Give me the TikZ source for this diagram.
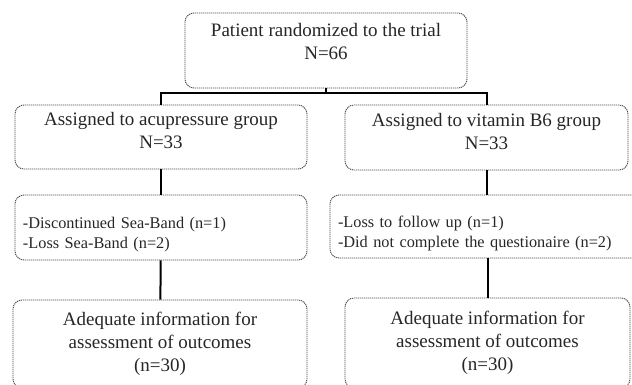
\documentclass[tikz,border=0pt]{standalone}
\usepackage{fontspec}
\setmainfont{Liberation Serif}
\usetikzlibrary{positioning,calc}
\tikzset{
	cbox/.style={
		draw=black!70,
		dash pattern=on 1.2pt off 0.8pt,
		rounded corners=9pt,
		align=center,
		inner sep=4pt,
		line width=0.9pt,
		text=black!85,
		font=\fontsize{19}{23}\selectfont
	},
	nbox/.style={cbox, align=left, inner xsep=8pt, font=\fontsize{16.3}{20.5}\selectfont},
	cline/.style={line width=2pt, black}
}

\begin{document}
\begin{tikzpicture}[x=1pt, y=-1pt]
	\useasboundingbox (0,0) rectangle (632,385);
	\node[cbox, minimum width=282pt, minimum height=75pt, text depth=18pt] (trial) at (326,50.5) {Patient randomized to the trial\\N=66};
	\node[cbox, minimum width=292pt, minimum height=64pt, text depth=13pt] (acu) at (161,137) {Assigned to acupressure group\\N=33};
	\node[cbox, minimum width=283pt, minimum height=65pt, text depth=13pt] (vit) at (486.5,137.5) {Assigned to vitamin B6 group\\N=33};
	\node[nbox, text width=276pt, minimum height=65pt, text depth=10pt] (drop1) at (161,227.5) {-Discontinued Sea-Band (n=1)\\-Loss Sea-Band (n=2)};
	\node[nbox, text width=304pt, minimum height=63pt, text depth=10pt] (drop2) at (490,226.5) {-Loss to follow up (n=1)\\-Did not complete the questionaire (n=2)};
	\node[cbox, minimum width=294pt, minimum height=88pt] (out1) at (160,344) {Adequate information for\\assessment of outcomes\\(n=30)};
	\node[cbox, minimum width=285pt, minimum height=90pt] (out2) at (487.5,343) {Adequate information for\\assessment of outcomes\\(n=30)};
	% split below the top box
	\coordinate (split) at ($(trial.south)+(0,5)$);
	\draw[cline] (trial.south) -- (split);
	\draw[cline] (split) -| (acu.north);
	\draw[cline] (split) -| (vit.north);
	\draw[cline] (acu) -- (drop1);
	\draw[cline] (vit) -- (vit.south |- drop2.north);
	\draw[cline] (drop1) -- (out1);
	\draw[cline] (drop2.south -| out2.north) -- (out2);
\end{tikzpicture}
\end{document}
